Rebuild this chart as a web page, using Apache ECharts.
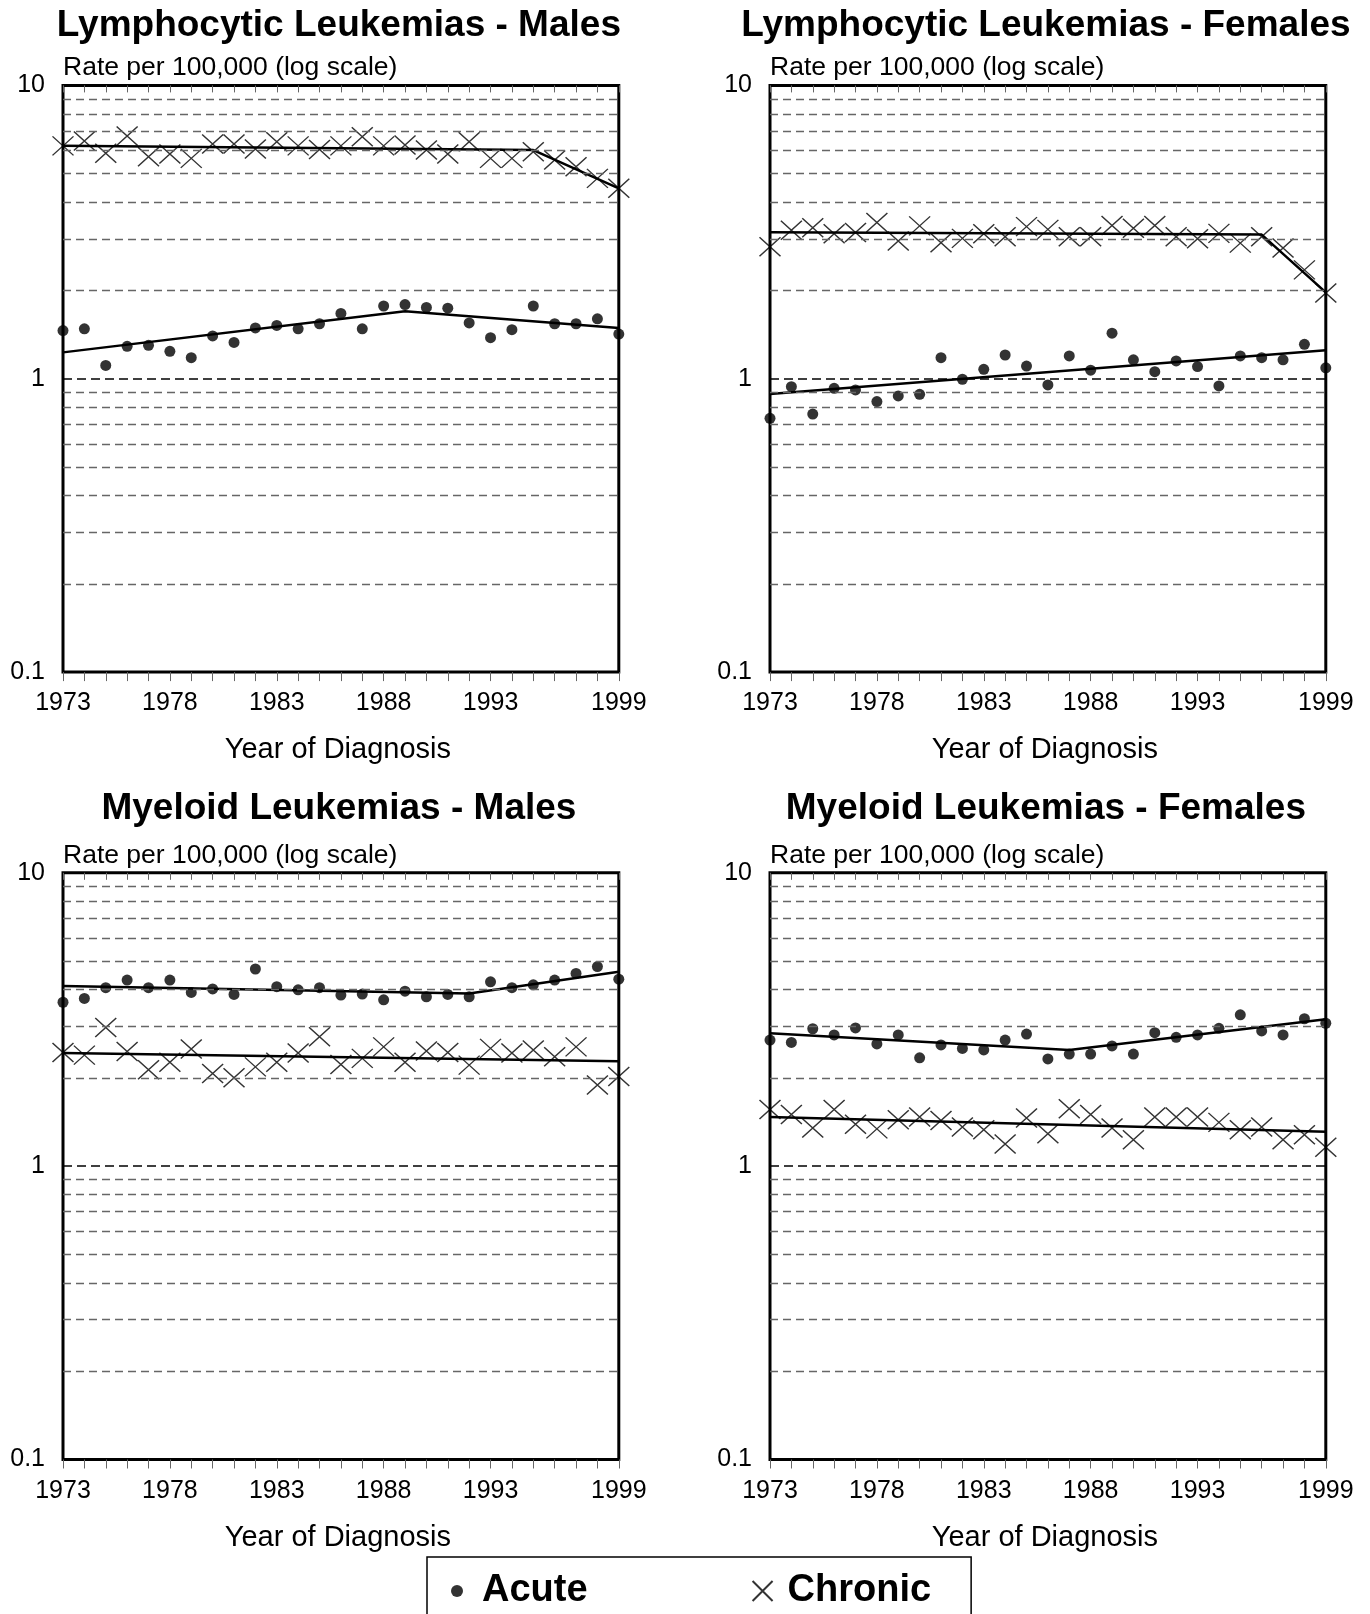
<!DOCTYPE html>
<html><head><meta charset="utf-8">
<script src="https://cdn.jsdelivr.net/npm/echarts@6/dist/echarts.min.js"></script>
<style>html,body{margin:0;padding:0;background:#fff}#c{width:1370px;height:1614px}</style>
</head><body><div id="c"></div>
<script>
const years = [1973,1974,1975,1976,1977,1978,1979,1980,1981,1982,1983,1984,1985,1986,1987,1988,1989,1990,1991,1992,1993,1994,1995,1996,1997,1998,1999];
const xTickLabels = [1973,1978,1983,1988,1993,1999];
const yTickLabels = [0.1,1,10];
const minorGridValues = [0.2,0.3,0.4,0.5,0.6,0.7,0.8,0.9,2,3,4,5,6,7,8,9];
const panelTitles = ['Lymphocytic Leukemias - Males','Lymphocytic Leukemias - Females','Myeloid Leukemias - Males','Myeloid Leukemias - Females'];
const seriesNames = ['Acute','Chronic'];

// Lymphocytic - Males
const lymMaleAcute   = [1.46,1.48,1.11,1.29,1.30,1.24,1.18,1.40,1.33,1.49,1.52,1.48,1.54,1.67,1.48,1.77,1.79,1.75,1.74,1.55,1.38,1.47,1.77,1.54,1.54,1.60,1.42];
const lymMaleChronic = [6.22,6.46,5.87,6.72,5.71,5.84,5.64,6.31,6.31,6.07,6.43,6.22,6.05,6.22,6.68,6.22,6.26,6.02,5.84,6.43,5.64,5.64,5.94,5.57,5.28,4.82,4.46];
const lymMaleAcuteTrend   = [[1973,1.23],[1989,1.70],[1999,1.49]];
const lymMaleChronicTrend = [[1973,6.23],[1995,6.02],[1999,4.46]];
// Lymphocytic - Females
const lymFemAcute   = [0.733,0.940,0.758,0.928,0.916,0.836,0.874,0.885,1.18,0.996,1.077,1.205,1.105,0.953,1.196,1.07,1.43,1.16,1.057,1.15,1.10,0.945,1.196,1.18,1.16,1.31,1.09];
const lymFemChronic = [2.82,3.21,3.27,3.12,3.15,3.41,2.95,3.32,2.91,3.01,3.12,3.05,3.30,3.23,3.05,3.05,3.33,3.26,3.33,3.05,3.00,3.13,2.90,3.05,2.79,2.35,1.96];
const lymFemAcuteTrend   = [[1973,0.887],[1999,1.25]];
const lymFemChronicTrend = [[1973,3.16],[1996,3.10],[1999,1.97]];
// Myeloid - Males
const myeMaleAcute   = [3.62,3.73,4.06,4.31,4.06,4.31,3.91,4.02,3.85,4.70,4.09,3.99,4.06,3.83,3.86,3.69,3.95,3.78,3.85,3.78,4.25,4.06,4.15,4.31,4.54,4.79,4.34];
const myeMaleChronic = [2.44,2.39,2.97,2.46,2.13,2.26,2.51,2.07,2.00,2.18,2.26,2.43,2.76,2.22,2.33,2.55,2.26,2.47,2.44,2.21,2.52,2.43,2.49,2.36,2.55,1.89,2.02];
const myeMaleAcuteTrend   = [[1973,4.11],[1992,3.88],[1999,4.60]];
const myeMaleChronicTrend = [[1973,2.43],[1999,2.28]];
// Myeloid - Females
const myeFemAcute   = [2.69,2.64,2.94,2.80,2.96,2.61,2.80,2.34,2.59,2.52,2.49,2.69,2.82,2.32,2.41,2.41,2.57,2.41,2.85,2.75,2.80,2.95,3.28,2.89,2.80,3.18,3.07];
const myeFemChronic = [1.56,1.50,1.35,1.56,1.39,1.34,1.44,1.47,1.43,1.36,1.33,1.19,1.46,1.29,1.57,1.50,1.35,1.23,1.47,1.47,1.47,1.41,1.33,1.36,1.23,1.28,1.16];
const myeFemAcuteTrend   = [[1973,2.84],[1987,2.49],[1999,3.17]];
const myeFemChronicTrend = [[1973,1.47],[1999,1.31]];

const panels = [
  {acute: lymMaleAcute, chronic: lymMaleChronic, acuteTrend: lymMaleAcuteTrend, chronicTrend: lymMaleChronicTrend},
  {acute: lymFemAcute, chronic: lymFemChronic, acuteTrend: lymFemAcuteTrend, chronicTrend: lymFemChronicTrend},
  {acute: myeMaleAcute, chronic: myeMaleChronic, acuteTrend: myeMaleAcuteTrend, chronicTrend: myeMaleChronicTrend},
  {acute: myeFemAcute, chronic: myeFemChronic, acuteTrend: myeFemAcuteTrend, chronicTrend: myeFemChronicTrend}
];

const FONT = 'Liberation Sans, Arial, Helvetica, sans-serif';
const X_PATH = 'path://M0,0L10,10M10,0L0,10';
// legend icons: drawn inside a 24x24 box (corner moveTo points fix the box)
const LEGEND_DOT = 'path://M0,0M24,24M6,12a6,6 0 1,0 12,0a6,6 0 1,0 -12,0Z';
const LEGEND_X = 'path://M0,0M24,24M2,2L22,22M22,2L2,22';
const boxes = [
  {left: 63, top: 85.4, titleY: 26},
  {left: 770, top: 85.4, titleY: 26},
  {left: 63, top: 872.8, titleY: 809},
  {left: 770, top: 872.8, titleY: 809}
];
const W = 555.8, H = 586.7;

const option = {
  backgroundColor: '#fff',
  animation: false,
  textStyle: {fontFamily: FONT, color: '#000'},
  title: [], grid: [], xAxis: [], yAxis: [], series: [],
  legend: {
    left: 427, top: 1557,
    padding: [15, 40, 45, 18],
    borderColor: '#000', borderWidth: 1.5,
    itemWidth: 24, itemHeight: 24, itemGap: 162,
    textStyle: {fontFamily: FONT, fontSize: 38, fontWeight: 'bold', color: '#000', padding: [0,0,0,8]},
    data: [{name: 'Acute', icon: LEGEND_DOT}, {name: 'Chronic', icon: LEGEND_X}]
  }
};

boxes.forEach((b, i) => {
  const cx = b.left + W / 2;
  option.title.push({
    text: panelTitles[i], left: cx - 2, top: b.titleY, padding: 0,
    textAlign: 'center', textVerticalAlign: 'middle',
    textStyle: {fontFamily: FONT, fontSize: 37, fontWeight: 'bold', color: '#000'}
  });
  option.grid.push({left: b.left, top: b.top, width: W, height: H, show: true,
    borderColor: '#000', borderWidth: 3, backgroundColor: 'transparent', containLabel: false});
  // bottom axis
  option.xAxis.push({
    type: 'value', gridIndex: i, position: 'bottom', min: years[0], max: years[years.length - 1], interval: 1,
    name: 'Year of Diagnosis', nameLocation: 'middle', nameGap: 78,
    nameTextStyle: {fontFamily: FONT, fontSize: 29, color: '#000', verticalAlign: 'middle', padding: [0, 6, 0, 0]},
    axisLine: {show: false},
    axisTick: {show: true, length: 9, inside: false, lineStyle: {color: '#666', width: 1}},
    axisLabel: {show: true, margin: 19, fontFamily: FONT, fontSize: 25, color: '#000', showMinLabel: true, showMaxLabel: true,
      formatter: v => xTickLabels.indexOf(v) >= 0 ? String(v) : ''},
    splitLine: {show: false}
  });
  // top ticks
  option.xAxis.push({
    type: 'value', gridIndex: i, position: 'top', min: years[0], max: years[years.length - 1], interval: 1,
    axisLine: {show: false},
    axisTick: {show: true, length: 7, inside: true, lineStyle: {color: '#666', width: 1}},
    axisLabel: {show: false}, splitLine: {show: false}
  });
  option.yAxis.push({
    type: 'log', logBase: 10, gridIndex: i, min: yTickLabels[0], max: yTickLabels[yTickLabels.length - 1],
    name: 'Rate per 100,000 (log scale)', nameLocation: 'end', nameGap: 17.5,
    nameTextStyle: {fontFamily: FONT, fontSize: 26.5, color: '#000', align: 'left', verticalAlign: 'middle'},
    axisLine: {show: false}, axisTick: {show: false},
    axisLabel: {margin: 18, fontFamily: FONT, fontSize: 25, color: '#000',
      formatter: v => yTickLabels.indexOf(+v) >= 0 ? String(+v) : ''},
    splitLine: {show: true, lineStyle: {color: '#000', width: 1.5, type: [9, 5]}}
  });
  const p = panels[i];
  const xi = i * 2;
  option.series.push({
    type: 'line', name: 'Acute trend', xAxisIndex: xi, yAxisIndex: i, data: p.acuteTrend,
    symbol: 'none', clip: false, lineStyle: {color: '#000', width: 2.5}, z: 3,
    markLine: {silent: true, symbol: 'none', label: {show: false},
      lineStyle: {color: '#666', width: 1.3, type: [8, 5]},
      data: minorGridValues.map(v => ({yAxis: v}))}
  });
  option.series.push({
    type: 'line', name: 'Chronic trend', xAxisIndex: xi, yAxisIndex: i, data: p.chronicTrend,
    symbol: 'none', clip: false, lineStyle: {color: '#000', width: 2.5}, z: 3
  });
  option.series.push({
    type: 'scatter', name: seriesNames[0], xAxisIndex: xi, yAxisIndex: i,
    data: years.map((y, k) => [y, p.acute[k]]),
    symbol: 'circle', symbolSize: 11, clip: false, itemStyle: {color: '#000'}, z: 4
  });
  option.series.push({
    type: 'scatter', name: seriesNames[1], xAxisIndex: xi, yAxisIndex: i,
    data: years.map((y, k) => [y, p.chronic[k]]),
    symbol: X_PATH, symbolSize: [21, 19], clip: false,
    itemStyle: {color: 'rgba(0,0,0,0)', borderColor: '#000', borderWidth: 1.4}, z: 4
  });
});

const chart = echarts.init(document.getElementById('c'), null, {renderer: 'canvas'});
chart.setOption(option);
</script>
</body></html>
